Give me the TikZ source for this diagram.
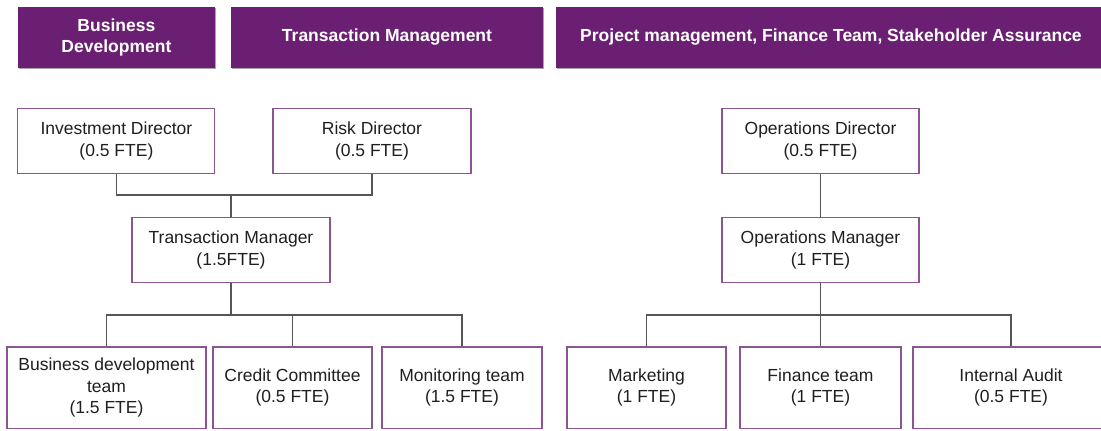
\documentclass[tikz,border=0pt]{standalone}
\usepackage{fontspec}
\setmainfont{Liberation Sans}
\usetikzlibrary{calc, shadows}

\definecolor{plum}{HTML}{6B1F73}
\definecolor{plumline}{HTML}{8A5592}
\definecolor{wire}{HTML}{555555}

\begin{document}
\begin{tikzpicture}[x=0.6pt,y=-0.6pt,
  head/.style={fill=plum,text=white,font=\fontsize{10.5}{12.3}\selectfont\bfseries,align=center,
    inner sep=0pt,minimum height=61*0.6pt,
    drop shadow={shadow xshift=0.6pt,shadow yshift=-0.6pt,fill=black!35,opacity=1}},
  role/.style={draw=plumline,line width=0.7pt,fill=white,text=black!88,align=center,
    inner sep=0pt,font=\fontsize{10.5}{12.8}\selectfont},
  link/.style={draw=wire,line width=0.7pt},
  wd/.style={minimum width=#1*0.6pt},
  ht/.style={minimum height=#1*0.6pt}]
\clip (0,0) rectangle (1101,430);
% Headers
\node[head,wd=197] (hdrbiz) at (116.4,37.5) {Business\\Development};
\node[head,wd=312] (hdrtrans) at (387,37.5) {Transaction Management};
\node[head,wd=550] (hdrproj) at (831,37.5) {Project management, Finance Team, Stakeholder Assurance};
% Directors and managers
\node[role,wd=197,ht=65] (invdir) at (116.4,141) {Investment Director\\(0.5 FTE)};
\node[role,wd=198,ht=65] (riskdir) at (372,141) {Risk Director\\(0.5 FTE)};
\node[role,wd=198,ht=65] (tman) at (231,250) {Transaction Manager\\(1.5FTE)};
\node[role,wd=197,ht=65] (opsdir) at (820.5,141) {Operations Director\\(0.5 FTE)};
\node[role,wd=197,ht=65] (opsman) at (820.5,250) {Operations Manager\\(1 FTE)};
% Teams
\node[role,wd=199,ht=81.5] (bdteam) at (106.5,387.75) {Business development\\team\\(1.5 FTE)};
\node[role,wd=159,ht=81.5] (credit) at (292.5,387.75) {Credit Committee\\(0.5 FTE)};
\node[role,wd=160,ht=81.5] (montm) at (462,387.75) {Monitoring team\\(1.5 FTE)};
\node[role,wd=159,ht=81.5] (mkt) at (646.5,387.75) {Marketing\\(1 FTE)};
\node[role,wd=161,ht=81.5] (fin) at (820.5,387.75) {Finance team\\(1 FTE)};
\node[role,wd=196,ht=81.5] (audit) at (1011,387.75) {Internal Audit\\(0.5 FTE)};
% Bus points
\coordinate (topbus) at (231,195);
\coordinate (lowbus) at (231,315);
\coordinate (rbus) at (820.5,315);
% Connectors, left tree
\draw[link] (invdir.south) |- (topbus);
\draw[link] (riskdir.south) |- (topbus);
\draw[link] (topbus) -- (tman.north);
\draw[link] (tman.south) -- (lowbus);
\draw[link] (lowbus) -| (bdteam.north);
\draw[link] (lowbus) -| (credit.north);
\draw[link] (lowbus) -| (montm.north);
% Connectors, right tree
\draw[link] (opsdir.south) -- (opsman.north);
\draw[link] (opsman.south) -- (rbus);
\draw[link] (rbus) -| (mkt.north);
\draw[link] (rbus) -- (fin.north);
\draw[link] (rbus) -| (audit.north);
\end{tikzpicture}
\end{document}
